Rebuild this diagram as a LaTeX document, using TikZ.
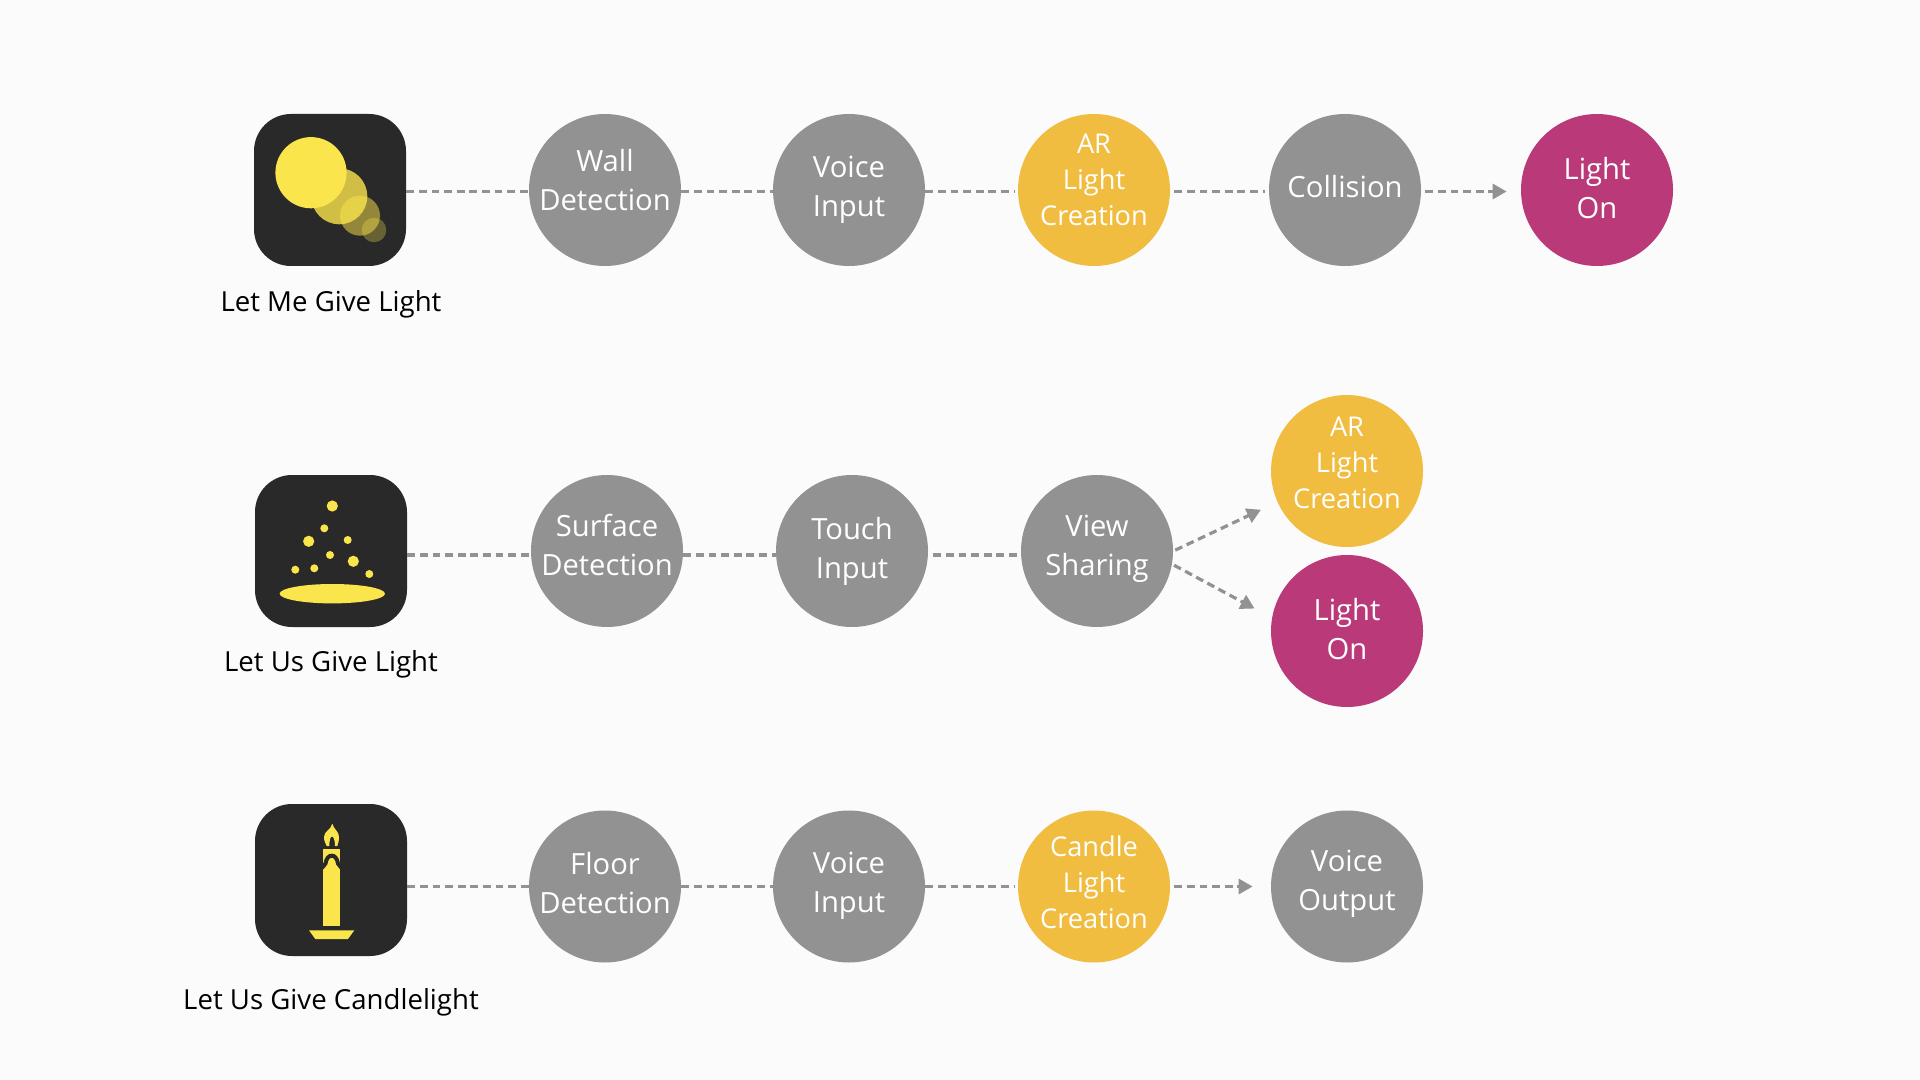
\documentclass[tikz,border=0pt]{standalone}
\usepackage{fontspec}
\setmainfont{Open Sans}
\usetikzlibrary{positioning,arrows.meta}
\definecolor{pagecolor}{RGB}{251,251,251}
\definecolor{iconcolor}{RGB}{41,41,41}
\definecolor{glowcolor}{RGB}{251,229,77}
\definecolor{stagecolor}{RGB}{146,146,146}
\definecolor{createcolor}{RGB}{240,189,64}
\definecolor{lightcolor}{RGB}{186,58,121}
\newcommand{\lift}[1]{\rule[-#1]{0pt}{#1}}

\begin{document}
\begin{tikzpicture}[%
    x=0.5pt, y=-0.5pt,           % one unit is one pixel of the reference
    >={Triangle[length=7pt,width=7.5pt]},
    ]
\tikzset{
  base/.style={circle, on grid, align=center, minimum size=76pt, inner sep=-10pt, text=white},
  stage/.style={base, fill=stagecolor, font=\fontsize{14.6}{19.5}\selectfont},
  create/.style={base, fill=createcolor, font=\fontsize{13.6}{18}\selectfont},
  lighton/.style={base, fill=lightcolor, font=\fontsize{14.6}{19.5}\selectfont},
  icon/.style={rectangle, rounded corners=18.5pt, fill=iconcolor, minimum size=76pt, inner sep=0pt},
  title/.style={font=\fontsize{13.8}{16}\selectfont, text=black},
  flow/.style={draw=stagecolor, line width=1.6pt, dash pattern=on 3.9pt off 2.4pt},
  glow/.style={fill=glowcolor},
}

\fill [pagecolor] (0,0) rectangle (1920,1080);
\useasboundingbox (0,0) rectangle (1920,1080);

\node [icon] (icon1) at (330,190) {};
\node [icon] (icon2) at (331,551) {};
\node [icon] (icon3) at (331,880) {};

\node [title] (title1) at (331,304) {Let Me Give Light};
\node [title] (title2) at (331,664) {Let Us Give Light};
\node [title] (title3) at (331,1002) {Let Us Give Candlelight};

%first row
\node [stage] (wall) at (605,190) {Wall\\Detection\lift{10pt}};
\node [stage,right=122pt of wall] (voice1) {Voice\\Input\lift{3pt}};
\node [create,right=122.5pt of voice1] (arlight1) {AR\\Light\\Creation\lift{10pt}};
\node [stage,right=125.5pt of arlight1] (collision) {Collision\lift{4pt}};
\node [lighton,right=126pt of collision] (on1) {Light\\On\lift{2pt}};

%second row
\node [stage] (surface) at (607,551) {Surface\\Detection\lift{6pt}};
\node [stage,right=122.5pt of surface] (touch) {Touch\\Input};
\node [stage,right=122.5pt of touch] (view) {View\\Sharing\lift{6pt}};
\node [create] (arlight2) at (1347,471) {AR\\Light\\Creation\lift{8pt}};
\node [lighton] (on2) at (1347,631) {Light\\On\lift{2pt}};

%third row
\node [stage] (floor) at (605,886.5) {Floor\\Detection\lift{4pt}};
\node [stage,right=122pt of floor] (voice2) {Voice\\Input\lift{4pt}};
\node [create,right=122.5pt of voice2] (candle) {Candle\\Light\\Creation\lift{4pt}};
\node [stage,right=126.5pt of candle] (voice3) {Voice\\Output\lift{6pt}};

%connect
\draw [flow] ([yshift=-0.75pt]icon1.east) -- ([yshift=-0.75pt]wall.west);
\draw [flow] ([yshift=-0.75pt]wall.east) -- ([yshift=-0.75pt]voice1.west);
\draw [flow,shorten >=1.5pt] ([yshift=-0.75pt]voice1.east) -- ([yshift=-0.75pt]arlight1.west);
\draw [flow,shorten <=2pt,shorten >=2pt] ([yshift=-0.75pt]arlight1.east) -- ([yshift=-0.75pt]collision.west);
\draw [flow,->,shorten <=2pt,shorten >=7pt] ([yshift=-0.75pt]collision.east) -- ([yshift=-0.75pt]on1.west);

\draw [flow] ([yshift=-2pt]icon2.east) -- ([yshift=-2pt]surface.west);
\draw [flow] ([yshift=-2pt]surface.east) -- ([yshift=-2pt]touch.west);
\draw [flow,shorten <=2.5pt] ([yshift=-2pt]touch.east) -- ([yshift=-2pt]view.west);
\draw [flow,->,shorten <=1pt,shorten >=9pt] (view.east) -- (arlight2.204);
\draw [flow,->,shorten <=1pt,shorten >=9.75pt] (view.-10) -- (on2.170);

\draw [flow] (icon3.east |- floor.west) -- (floor.west);
\draw [flow] (floor.east) -- (voice2.west);
\draw [flow,shorten >=1.5pt] (voice2.east) -- (candle.west);
\draw [flow,->,shorten <=2pt,shorten >=9pt] (candle.east) -- (voice3.west);

%spot icon
\fill [glow,opacity=0.3] (374,230) circle (12.3);
\fill [glow,opacity=0.5] (360,215.7) circle (20);
\fill [glow,opacity=0.8] (339.3,196.3) circle (28);
\fill [glow] (311,172.7) circle (35.6);

%sparks icon
\fill [glow] (332.3,506) circle (5.6);
\fill [glow] (324.3,528.3) circle (4);
\fill [glow] (308.7,541.3) circle (5.6);
\fill [glow] (347.7,540) circle (4);
\fill [glow] (330,555) circle (4);
\fill [glow] (353.3,561.3) circle (5.6);
\fill [glow] (314.3,568.3) circle (4);
\fill [glow] (295.3,569.7) circle (4);
\fill [glow] (369.3,574) circle (4);
\fill [glow] (332.3,593.7) ellipse (52.7 and 9.7);

%candle icon
\fill [glow] (332.3,823.7) .. controls (334,830) and (339,831) .. (339,837)
  .. controls (339,841) and (338,844) .. (337.3,846) -- (335,846)
  .. controls (335,840) and (333.5,836.5) .. (332,836.5)
  .. controls (330.5,836.5) and (329.3,840) .. (329.3,846) -- (326.7,846)
  .. controls (325.5,844) and (324,841) .. (324,837)
  .. controls (324,831) and (331,830) .. (332.3,823.7) -- cycle;
\fill [glow] (323.3,849.3) rectangle (340,926);
\draw [iconcolor,line width=2pt] (322,868) -- (325.5,863.5)
  .. controls (327,853) and (336.5,853) .. (338,863.5) -- (341.5,868);
\fill [glow] (309,930.3) -- (354.3,930.3) -- (348,939) -- (315.3,939) -- cycle;
\end{tikzpicture}
\end{document}
